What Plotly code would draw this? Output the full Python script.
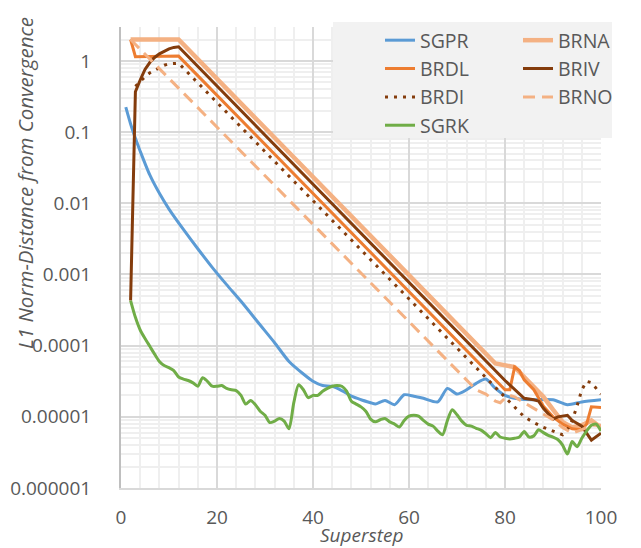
import plotly.graph_objects as go

# ---------------- data ----------------
sgpr_x = [1, 2, 3, 4, 6, 8, 10, 13, 16, 19, 22, 25, 29, 32, 35, 38, 40, 42, 44, 46, 48, 50,
          52, 53, 55, 57, 59, 61, 63, 66, 68, 70, 72, 74, 76, 78, 80, 83, 86, 90, 93, 96, 100]
sgpr_y = [0.224, 0.13, 0.082, 0.054, 0.025, 0.0138, 0.0083, 0.0043, 0.0023, 0.00126, 0.00072,
          0.00042, 0.000195, 0.00011, 0.00006, 0.00004, 0.0000316, 0.0000275, 0.0000269,
          0.0000234, 0.0000195, 0.0000174, 0.0000158, 0.0000151, 0.000017, 0.0000148, 0.0000204,
          0.0000195, 0.0000182, 0.0000162, 0.0000251, 0.0000209, 0.000024, 0.0000295, 0.0000339,
          0.0000251, 0.00002, 0.0000178, 0.0000174, 0.0000174, 0.0000148, 0.0000162, 0.0000174]

sgrk_x = list(range(2, 101))
sgrk_y = [0.00043, 0.00025, 0.000166, 0.000126, 0.000098, 0.000076, 0.00006, 0.0000525, 0.000049,
          0.0000447, 0.0000363, 0.0000339, 0.0000324, 0.00003, 0.0000269, 0.0000355, 0.0000316,
          0.0000269, 0.0000269, 0.0000275, 0.0000251, 0.000024, 0.0000234, 0.00002, 0.0000151,
          0.000017, 0.0000148, 0.000012, 0.0000105, 0.0000083, 0.0000087, 0.0000095, 0.0000087,
          0.0000068, 0.0000158, 0.0000282, 0.000024, 0.0000186, 0.00002, 0.00002, 0.0000229,
          0.0000251, 0.0000269, 0.0000275, 0.0000269, 0.0000229, 0.0000166, 0.0000151, 0.0000138,
          0.000012, 0.0000093, 0.0000085, 0.0000091, 0.0000095, 0.0000085, 0.0000079, 0.0000072,
          0.0000089, 0.0000102, 0.0000105, 0.0000102, 0.0000089, 0.0000079, 0.0000074, 0.0000063,
          0.0000056, 0.0000089, 0.0000126, 0.0000107, 0.0000087, 0.0000076, 0.0000074, 0.0000069,
          0.0000065, 0.0000058, 0.0000051, 0.000006, 0.0000052, 0.000005, 0.0000049, 0.000005,
          0.0000052, 0.0000062, 0.0000052, 0.0000054, 0.0000066, 0.000006, 0.0000055, 0.0000052,
          0.0000048, 0.000004, 0.000003, 0.0000045, 0.0000038, 0.000005, 0.0000063, 0.0000076,
          0.0000079, 0.0000063]

brna_x = [2, 12, 78, 80, 82, 84, 86, 88, 90, 92, 94, 96, 98, 100]
brna_y = [2.0, 2.0, 0.0000562, 0.0000525, 0.00005, 0.0000363, 0.0000263, 0.0000191, 0.0000126,
          0.0000085, 0.0000071, 0.0000076, 0.0000089, 0.0000071]

brdl_x = [2, 3, 12, 80, 81, 82, 83, 84, 86, 88, 90, 92, 94, 96, 97, 98, 100]
brdl_y = [2.0, 1.15, 1.17, 0.000024, 0.000024, 0.00005, 0.0000447, 0.0000331, 0.000024,
          0.0000141, 0.00001, 0.0000079, 0.0000068, 0.0000066, 0.0000079, 0.0000138, 0.0000135]

briv_x = [2, 3, 4, 5, 6, 7, 8, 9, 10, 11, 12, 80, 82, 84, 86, 87, 88, 90, 91, 93, 94, 96, 98, 100]
briv_y = [0.00043, 0.37, 0.54, 0.76, 0.95, 1.12, 1.26, 1.38, 1.48, 1.55, 1.58, 0.0000324,
          0.000024, 0.0000182, 0.0000174, 0.0000166, 0.0000132, 0.0000093, 0.00001, 0.0000105,
          0.0000089, 0.0000074, 0.0000047, 0.0000059]

brdi_x = [3, 4, 5, 6, 7, 8, 9, 10, 11, 12, 84, 86, 88, 90, 92, 93, 94, 95, 96, 97, 98, 99, 100]
brdi_y = [0.44, 0.52, 0.60, 0.68, 0.74, 0.81, 0.87, 0.91, 0.93, 0.93, 0.00001, 0.0000083,
          0.0000071, 0.0000063, 0.0000056, 0.0000066, 0.0000089, 0.0000141, 0.000024, 0.0000316,
          0.0000302, 0.0000251, 0.0000209]

brno_x = [2, 74, 76, 78, 79, 80, 81, 82, 84, 86, 88, 90, 92, 94, 96, 98, 100]
brno_y = [2.0, 0.000024, 0.0000209, 0.0000166, 0.0000158, 0.0000182, 0.00002, 0.0000191,
          0.0000158, 0.0000132, 0.000011, 0.0000091, 0.0000071, 0.0000059, 0.0000066, 0.0000076,
          0.0000076]

y_tickvals = [1e-6, 1e-5, 1e-4, 1e-3, 1e-2, 1e-1, 1]
y_ticktext = ["0.000001", "0.00001", "0.0001", "0.001", "0.01", "0.1", "1"]
x_tickvals = [0, 20, 40, 60, 80, 100]

# ---------------- styling ----------------
FONT = "Open Sans"
GREY = "#595959"
C_BLUE = "#5B9BD5"
C_ORANGE = "#ED7D31"
C_BROWN = "#843C0C"
C_GREEN = "#70AD47"
C_LIGHT = "#F4B183"
TICK_SIZE = 19
LEG_SIZE = 19.5

fig = go.Figure()

def add(name, xs, ys, color, width=3, dash="solid", legend="legend", shape="linear"):
    fig.add_trace(go.Scatter(x=xs, y=ys, mode="lines", name=name,
                             line=dict(color=color, width=width, dash=dash, shape=shape,
                                       smoothing=0.7 if shape == "spline" else None),
                             legend=legend))

# drawing order as in the original series order
add("SGPR", sgpr_x, sgpr_y, C_BLUE, shape="spline")
add("BRNA", brna_x, brna_y, C_LIGHT, width=4.5, legend="legend2")
add("BRDL", brdl_x, brdl_y, C_ORANGE)
add("BRIV", briv_x, briv_y, C_BROWN, legend="legend2")
add("BRDI", brdi_x, brdi_y, C_BROWN, dash="3px,6px")
add("BRNO", brno_x, brno_y, C_LIGHT, dash="12px,7px", legend="legend2")
add("SGRK", sgrk_x, sgrk_y, C_GREEN, shape="spline")

minor_y = [m * 10 ** e for e in range(-6, 1) for m in range(2, 10) if m * 10 ** e <= 3]

# the page body has an 8px margin: lay the figure out in page pixels
OFF = 8
W, H = 641 - OFF, 548 - OFF
plot_l, plot_r, plot_t, plot_b = 121, 601, 27, 488          # page pixels
ml, mr, mt, mb = plot_l - OFF, (W + OFF) - plot_r, plot_t - OFF, (H + OFF) - plot_b
pw, ph = W - ml - mr, H - mt - mb

def px2paper_x(px):
    return (px - plot_l) / pw

def px2paper_y(py):
    return (plot_b - py) / ph

fig.update_layout(
    width=W, height=H,
    margin=dict(l=ml, r=mr, t=mt, b=mb, autoexpand=False),
    paper_bgcolor="white", plot_bgcolor="white",
    font=dict(family=FONT, size=TICK_SIZE, color=GREY),
    xaxis=dict(range=[0, 100], tickvals=x_tickvals, showgrid=True,
               gridcolor="#d9d9d9", gridwidth=1.5,
               minor=dict(dtick=4, tick0=0, showgrid=True, gridcolor="#efefef", gridwidth=1.5),
               showline=True, linecolor="#d9d9d9", linewidth=1.5,
               ticks="", ticklabelstandoff=11, zeroline=False, automargin=False,
               tickfont=dict(size=TICK_SIZE, color=GREY)),
    yaxis=dict(type="log", range=[-6, 0.4771], tickmode="array",
               tickvals=y_tickvals, ticktext=y_ticktext, showgrid=True,
               gridcolor="#d9d9d9", gridwidth=1.5,
               minor=dict(tickmode="array", tickvals=minor_y, showgrid=True,
                          gridcolor="#efefef", gridwidth=1.5),
               showline=True, linecolor="#bfbfbf", linewidth=2,
               ticks="", ticklabelstandoff=24, zeroline=False, automargin=False,
               tickfont=dict(size=TICK_SIZE, color=GREY)),
    legend=dict(x=px2paper_x(380), y=px2paper_y(21), xanchor="left", yanchor="top",
                bgcolor="rgba(0,0,0,0)", font=dict(size=LEG_SIZE, color=GREY),
                tracegroupgap=0, itemwidth=30),
    legend2=dict(x=px2paper_x(518), y=px2paper_y(21), xanchor="left", yanchor="top",
                 bgcolor="rgba(0,0,0,0)", font=dict(size=LEG_SIZE, color=GREY),
                 tracegroupgap=0, itemwidth=30),
    shapes=[dict(type="rect", xref="paper", yref="paper",
                 x0=px2paper_x(333), x1=px2paper_x(612),
                 y0=px2paper_y(138), y1=px2paper_y(22),
                 fillcolor="#f2f2f2", line=dict(width=0), layer="above")],
    annotations=[
        dict(text="<i>L1 Norm-Distance from Convergence</i>", textangle=-90,
             xref="paper", yref="paper", x=px2paper_x(25), y=px2paper_y(183),
             xanchor="center", yanchor="middle", showarrow=False,
             font=dict(size=20.5, color=GREY)),
        dict(text="<i>Superstep</i>",
             xref="paper", yref="paper", x=px2paper_x(361), y=px2paper_y(535),
             xanchor="center", yanchor="middle", showarrow=False,
             font=dict(size=19, color=GREY)),
    ],
)

fig.write_html("out.html")
